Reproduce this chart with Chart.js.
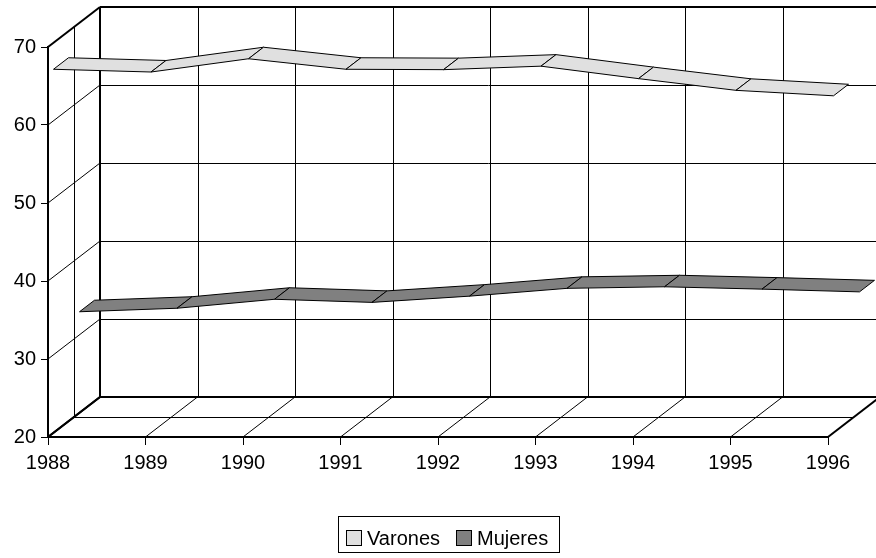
<!DOCTYPE html>
<html><head><meta charset="utf-8">
<script src="https://cdn.jsdelivr.net/npm/chart.js@4.4.1/dist/chart.umd.min.js"></script>
<style>html,body{margin:0;padding:0;background:#fff;} canvas{display:block;}</style>
</head><body>
<canvas id="c" width="876" height="558"></canvas>
<script>
// ---- data ----
const years = ['1988','1989','1990','1991','1992','1993','1994','1995','1996'];
const varones = [66.6, 66.25, 67.95, 66.6, 66.55, 67.0, 65.4, 63.9, 63.2];
const mujeres = [32.95, 33.4, 34.55, 34.15, 34.95, 35.95, 36.15, 35.85, 35.5];
const yTickValues = [20, 30, 40, 50, 60, 70];
const seriesNames = ['Varones', 'Mujeres'];
const seriesColors = ['#e0e0e0', '#808080'];

// ---- 3D projection settings (style, not data) ----
const DX = 52, DY = -40;           // depth vector of the chart box
const SLOT = [0.25, 0.75];         // depth centre of each series ribbon
const HALF = 0.144;                // half depth of a ribbon
const FONT = 'Liberation Sans, Arial, Helvetica, sans-serif';
const LEGEND_ITEM_X = [347, 457];  // swatch left of each legend item
const LEGEND_BOX = { left: 339, top: 517, right: 560, height: 36 };

function crisp(v){ return Math.round(v) + 0.5; }

const walls3d = {
  id: 'walls3d',
  beforeDatasetsDraw(chart) {
    const ctx = chart.ctx, xs = chart.scales.x, ys = chart.scales.y;
    const n = years.length;
    const xL = xs.getPixelForValue(0), xR = xs.getPixelForValue(n - 1);
    const yB = ys.getPixelForValue(ys.min), yT = ys.getPixelForValue(ys.max);
    ctx.save();
    ctx.strokeStyle = '#000';
    ctx.lineCap = 'butt';
    const line = (ax, ay, bx, by, w) => {
      ctx.lineWidth = w; ctx.beginPath(); ctx.moveTo(ax, ay); ctx.lineTo(bx, by); ctx.stroke();
    };
    // back wall horizontal gridlines + left wall diagonals
    yTickValues.forEach(v => {
      const y = ys.getPixelForValue(v);
      const edge = (v === ys.min || v === ys.max);
      const w = edge ? 2 : 1;
      const yb = edge ? Math.round(y + DY) : crisp(y + DY);
      line(xL + DX, yb, xR + DX + 10, yb, w);
      line(xL, y, xL + DX, y + DY, w);
    });
    // back wall verticals + floor diagonals
    for (let i = 0; i < n; i++) {
      const x = xs.getPixelForValue(i);
      const edge = (i === 0);
      const xb = edge ? Math.round(x + DX) : crisp(x + DX);
      line(xb, yT + DY, xb, yB + DY, edge ? 2 : 1);
      line(x, yB, x + DX, yB + DY, (i === 0 || i === n - 1) ? 2 : 1);
    }
    // series separator (middle depth) on floor and left wall
    const mx = xL + DX * 0.5, my = DY * 0.5;
    line(crisp(mx), yT + my, crisp(mx), yB + my, 1);
    line(mx, crisp(yB + my), xR + DX * 0.5, crisp(yB + my), 1);

    // ribbons, back series first
    const sets = chart.data.datasets;
    for (let s = sets.length - 1; s >= 0; s--) {
      const data = sets[s].data;
      const f = SLOT[s] - HALF, b = SLOT[s] + HALF;
      ctx.fillStyle = sets[s].backgroundColor;
      ctx.lineWidth = 1;
      ctx.lineJoin = 'miter';
      for (let i = 0; i < data.length - 1; i++) {
        const xa = xs.getPixelForValue(i), xb2 = xs.getPixelForValue(i + 1);
        const ya = ys.getPixelForValue(data[i]), yb2 = ys.getPixelForValue(data[i + 1]);
        ctx.beginPath();
        ctx.moveTo(xa + DX * f, ya + DY * f);
        ctx.lineTo(xb2 + DX * f, yb2 + DY * f);
        ctx.lineTo(xb2 + DX * b, yb2 + DY * b);
        ctx.lineTo(xa + DX * b, ya + DY * b);
        ctx.closePath();
        ctx.fill();
        ctx.stroke();
      }
    }
    ctx.restore();
  },
  afterDraw(chart) {
    // legend with frame
    const ctx = chart.ctx;
    ctx.save();
    ctx.font = '20px ' + FONT;
    ctx.textBaseline = 'middle';
    const sw = 15;
    const cy = LEGEND_BOX.top + 21;
    ctx.strokeStyle = '#000';
    ctx.lineWidth = 1;
    ctx.strokeRect(crisp(LEGEND_BOX.left) - 1, crisp(LEGEND_BOX.top) - 1,
                   LEGEND_BOX.right - LEGEND_BOX.left, LEGEND_BOX.height);
    chart.data.datasets.forEach((ds, i) => {
      const x = LEGEND_ITEM_X[i];
      ctx.fillStyle = ds.backgroundColor;
      ctx.fillRect(x, cy - 7, sw, sw);
      ctx.strokeStyle = '#000';
      ctx.strokeRect(crisp(x) - 1, crisp(cy - 7) - 1, sw, sw);
      ctx.fillStyle = '#000';
      ctx.textAlign = 'left';
      ctx.fillText(ds.label, x + sw + 5, cy + 1);
    });
    ctx.restore();
  }
};

Chart.defaults.font.family = FONT;
Chart.defaults.font.size = 20;
Chart.defaults.color = '#000';

new Chart(document.getElementById('c'), {
  type: 'line',
  data: {
    labels: years,
    datasets: [
      { label: seriesNames[0], data: varones, backgroundColor: seriesColors[0], borderColor: '#000', showLine: false, pointRadius: 0 },
      { label: seriesNames[1], data: mujeres, backgroundColor: seriesColors[1], borderColor: '#000', showLine: false, pointRadius: 0 }
    ]
  },
  options: {
    responsive: false,
    animation: false,
    devicePixelRatio: 1,
    layout: { padding: { left: 0, top: 47, right: 48, bottom: 0 } },
    plugins: { legend: { display: false }, tooltip: { enabled: false } },
    scales: {
      x: {
        type: 'category',
        offset: false,
        grid: { display: true, drawOnChartArea: false, drawTicks: true, tickLength: 8, color: '#000', offset: false },
        border: { display: true, color: '#000', width: 2 },
        ticks: { padding: 6, maxRotation: 0, autoSkip: false, font: { size: 20 } },
        afterFit(scale) { scale.height = 121; }
      },
      y: {
        min: 20, max: 70,
        afterBuildTicks(scale) { scale.ticks = yTickValues.map(v => ({ value: v })); },
        grid: { display: true, drawOnChartArea: false, drawTicks: true, tickLength: 7, color: '#000' },
        border: { display: true, color: '#000', width: 2 },
        ticks: { padding: 5, font: { size: 20 } },
        afterFit(scale) { scale.width = 48; }
      }
    }
  },
  plugins: [walls3d]
});
</script>
</body></html>
